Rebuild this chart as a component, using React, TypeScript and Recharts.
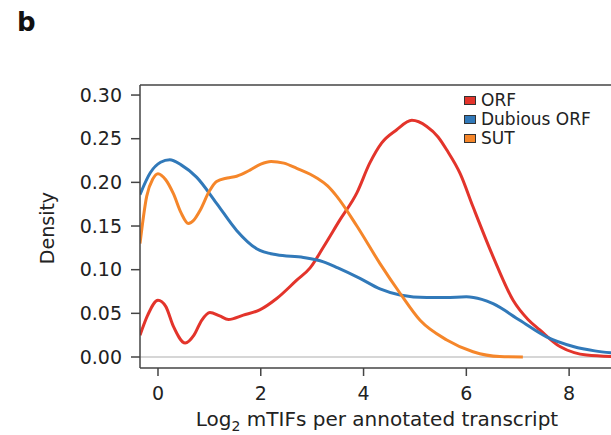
import React from "react";
import {
  LineChart,
  Line,
  XAxis,
  YAxis,
  Legend,
  ReferenceLine,
} from "recharts";

// density curves (x = log2 mTIFs, y = density)
const orfX = [-0.35, -0.2, 0.0, 0.15, 0.3, 0.53, 0.7, 0.85, 1.01, 1.2, 1.37, 1.66, 1.98, 2.31, 2.7, 2.96, 3.22, 3.54, 3.87, 4.12, 4.35, 4.64, 4.94, 5.23, 5.45, 5.62, 5.88, 6.13, 6.52, 6.91, 7.2, 7.43, 7.82, 8.1, 8.34, 8.99];
const orfY = [0.025, 0.048, 0.065, 0.058, 0.035, 0.016, 0.025, 0.042, 0.051, 0.047, 0.043, 0.048, 0.054, 0.067, 0.088, 0.102, 0.126, 0.157, 0.188, 0.222, 0.245, 0.26, 0.271, 0.264, 0.252, 0.237, 0.21, 0.172, 0.115, 0.065, 0.043, 0.031, 0.012, 0.005, 0.0023, 0.0003];

const dubX = [-0.35, -0.15, 0.05, 0.23, 0.45, 0.75, 1.14, 1.53, 1.92, 2.31, 2.83, 3.22, 3.5, 3.93, 4.32, 4.71, 5.23, 5.6, 6.0, 6.3, 6.52, 7.04, 7.56, 8.08, 8.5, 8.99];
const dubY = [0.186, 0.211, 0.223, 0.226, 0.22, 0.206, 0.176, 0.145, 0.124, 0.117, 0.114, 0.109, 0.102, 0.09, 0.078, 0.071, 0.068, 0.068, 0.069, 0.066, 0.061, 0.042, 0.023, 0.012, 0.007, 0.004];

const sutX = [-0.35, -0.22, -0.1, 0.0, 0.15, 0.3, 0.45, 0.59, 0.7, 0.82, 1.0, 1.14, 1.35, 1.53, 1.79, 2.0, 2.2, 2.45, 2.7, 3.09, 3.3, 3.48, 3.87, 4.32, 4.71, 5.1, 5.62, 6.13, 6.65, 7.1];
const sutY = [0.13, 0.184, 0.204, 0.21, 0.203, 0.187, 0.165, 0.153, 0.157, 0.168, 0.19, 0.201, 0.205, 0.207, 0.214, 0.221, 0.224, 0.222, 0.216, 0.205, 0.196, 0.184, 0.15, 0.107, 0.073, 0.042, 0.0195, 0.006, 0.0005, 0.0];

const xTicks = [0, 2, 4, 6, 8];
const yTicks = [0, 0.05, 0.1, 0.15, 0.2, 0.25, 0.3];

const X_MIN = -0.35;
const X_MAX = 8.99;
const Y_MIN = -0.0126;
const Y_MAX = 0.3115;

const toPoints = (xs: number[], ys: number[]) => xs.map((x, i) => ({ x, y: ys[i] }));

const series = [
  { name: "ORF", color: "#e3342b", data: toPoints(orfX, orfY) },
  { name: "Dubious ORF", color: "#3179b9", data: toPoints(dubX, dubY) },
  { name: "SUT", color: "#f5862a", data: toPoints(sutX, sutY) },
];
const legendOrder = series.map((s) => s.name);

const FONT = "'DejaVu Sans', sans-serif";
const AXIS = "#444";

function LegendBox(props: any) {
  const items = [...(props.payload || [])].sort(
    (a: any, b: any) => legendOrder.indexOf(a.value) - legendOrder.indexOf(b.value)
  );
  return (
    <div style={{ fontFamily: FONT, fontSize: 17, color: "#222" }}>
      {items.map((it: any) => (
        <div key={it.value} style={{ height: 19, lineHeight: "19px", display: "flex", alignItems: "center" }}>
          <span
            style={{
              display: "inline-block",
              width: 12,
              height: 9,
              boxSizing: "border-box",
              background: it.color,
              border: "1px solid #333",
              marginRight: 5,
            }}
          />
          <span>{it.value}</span>
        </div>
      ))}
    </div>
  );
}

export default function App() {
  return (
    <div
      style={{
        position: "absolute",
        left: 0,
        top: 0,
        width: 611,
        height: 435,
        overflow: "hidden",
        background: "#fff",
      }}
    >
      <div
        style={{
          position: "absolute",
          left: 17,
          top: 9,
          fontFamily: FONT,
          fontWeight: "bold",
          fontSize: 26,
          lineHeight: "26px",
          color: "#111",
        }}
      >
        b
      </div>
      <LineChart
        width={630}
        height={435}
        margin={{ top: 85, right: 10, bottom: 37, left: 80 }}
        style={{ fontFamily: FONT }}
      >
        <XAxis
          dataKey="x"
          type="number"
          domain={[X_MIN, X_MAX]}
          ticks={xTicks}
          allowDataOverflow
          height={30}
          axisLine={{ stroke: AXIS, strokeWidth: 1.5 }}
          tickLine={{ stroke: AXIS, strokeWidth: 1.5 }}
          tickSize={8}
          tickMargin={11}
          tick={{ fill: "#222", fontSize: 19 }}
          label={() => (
            <text x={377} y={426} textAnchor="middle" fill="#222" fontSize={20} fontFamily={FONT}>
              Log
              <tspan dy={5} fontSize={14}>2</tspan>
              <tspan dy={-5}> mTIFs per annotated transcript</tspan>
            </text>
          )}
        />
        <YAxis
          dataKey="y"
          type="number"
          domain={[Y_MIN, Y_MAX]}
          ticks={yTicks}
          allowDataOverflow
          width={60}
          tickFormatter={(v: number) => v.toFixed(2)}
          axisLine={{ stroke: AXIS, strokeWidth: 1.5 }}
          tickLine={{ stroke: AXIS, strokeWidth: 1.5 }}
          tickSize={9}
          tickMargin={9}
          tick={{ fill: "#222", fontSize: 19 }}
          label={() => (
            <text
              x={47}
              y={228}
              transform="rotate(-90, 47, 228)"
              textAnchor="middle"
              dominantBaseline="central"
              fill="#222"
              fontSize={19}
              fontFamily={FONT}
            >
              Density
            </text>
          )}
        />
        <ReferenceLine y={Y_MAX} stroke={AXIS} strokeWidth={1.5} />
        <ReferenceLine y={0} stroke="#c8c8c8" strokeWidth={1.5} />
        {series.map((s) => (
          <Line
            key={s.name}
            data={s.data}
            dataKey="y"
            name={s.name}
            type="monotone"
            stroke={s.color}
            strokeWidth={3}
            dot={false}
            activeDot={false}
            isAnimationActive={false}
          />
        ))}
        <Legend
          layout="vertical"
          align="center"
          verticalAlign="middle"
          content={<LegendBox />}
          wrapperStyle={{ left: 464, top: 91, width: 140, height: 60 }}
        />
      </LineChart>
    </div>
  );
}
